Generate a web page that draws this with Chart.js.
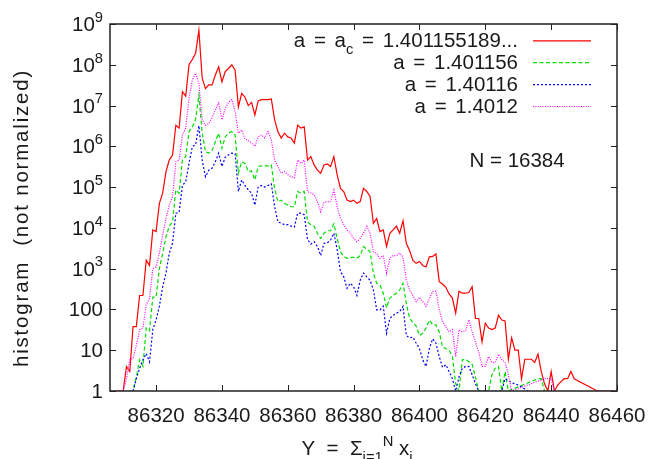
<!DOCTYPE html>
<html>
<head>
<meta charset="utf-8">
<script src="https://cdn.jsdelivr.net/npm/chart.js@4.4.1/dist/chart.umd.min.js"></script>
<style>
  html, body { margin: 0; padding: 0; background: #fff; }
  canvas { display: block; }
</style>
</head>
<body>
<canvas id="hist" width="652" height="459"></canvas>
<script>
// histogram bins start here, one bin per integer Y
const binStart = 86308;

const xTicks = [86320, 86340, 86360, 86380, 86400, 86420, 86440, 86460];
const yExponents = [0, 1, 2, 3, 4, 5, 6, 7, 8, 9];

const seriesLabels = [
  "a = a_{c} = 1.401155189...",
  "a = 1.401156",
  "a = 1.40116",
  "a = 1.4012"
];

// a = a_c
const redCounts = [
  1, 1, 1, 4, 3, 38, 38, 220, 220, 1600,                                   // 86308
  1200, 8900, 8100, 4.0e4, 7.1e4, 2.4e5, 4.6e5, 6.1e5, 3.3e6, 2.8e6,        // 86318
  2.2e7, 1.7e7, 1.0e8, 1.35e8, 1.9e8, 7.0e8, 4.7e7, 2.6e7, 3.2e7, 3.2e7,    // 86328
  5.6e7, 8.9e7, 3.8e7, 6.8e7, 8.1e7, 1.0e8, 7.4e7, 9.3e6, 2.0e7, 1.6e7,     // 86338
  1.0e7, 1.2e7, 5.9e6, 1.3e7, 1.4e7, 1.4e7, 1.4e7, 1.45e7, 4.5e6, 2.3e6,    // 86348
  1.6e6, 2.1e6, 1.7e6, 1.6e6, 1.2e6, 3.3e6, 2.8e6, 3.0e6, 4.6e5, 5.6e5,     // 86358
  3.5e5, 2.6e5, 2.2e5, 3.5e5, 3.7e5, 3.2e5, 5.6e5, 2.0e5, 9.3e4, 7.8e4,     // 86368
  4.8e4, 4.4e4, 4.8e4, 4.0e4, 4.4e4, 9.3e4, 7.8e4, 5.9e4, 1.3e4, 1.7e4,     // 86378
  8100, 8900, 3500, 7400, 8900, 1.1e4, 7400, 1.5e4, 4200, 2800,            // 86388
  1600, 1350, 1500, 1200, 1100, 1950, 2000, 2300, 480, 420,                // 86398
  350, 240, 190, 81, 280, 250, 250, 260, 360, 60,                          // 86408
  60, 16, 46, 35, 32, 35, 72, 55, 52, 6,                                   // 86418
  20, 10, 10, 2, 6, 6, 6, 5, 8, 3,                                         // 86428
  1.5, 1, 3, 1, 1.4, 1.7, 2, 2, 3, 2,                                      // 86438
  null, null, null, null, null, null, 1, null, null, null,                 // 86448
  null, 1                                                                  // 86458
];

// a = 1.401156
const greenCounts = [
  null, null, null, null, 1, 1, 2.2, 5.8, 4, 35,                           // 86308
  30, 200, 200, 1000, 2400, 6000, 1.1e4, 1.4e4, 8.5e4, 7.1e4,              // 86318
  4.6e5, 5.6e5, 2.3e6, 3.0e6, 4.5e6, 1.8e7, 2.1e6, 7.4e5, 6.8e5, 7.8e5,     // 86328
  1.3e6, 2.1e6, 8.9e5, 1.7e6, 2.1e6, 2.3e6, 1.9e6, 2.2e5, 4.2e5, 3.8e5,     // 86338
  2.4e5, 2.5e5, 1.5e5, 3.2e5, 3.3e5, 3.3e5, 3.3e5, 3.5e5, 9.3e4, 4.4e4,     // 86348
  4.8e4, 4.0e4, 3.6e4, 3.3e4, 3.3e4, 7.8e4, 7.1e4, 7.8e4, 1.4e4, 1.2e4,     // 86358
  1.1e4, 7400, 5500, 7400, 8500, 8500, 1.26e4, 5500, 2600, 2000,           // 86368
  1800, 1900, 1900, 1800, 2100, 3500, 3000, 2600, 780, 440,                // 86378
  400, 250, 110, 190, 220, 250, 300, 440, 140, 60,                         // 86388
  48, 39, 23, 26, 35, 55, 42, 42, 28, 12,                                  // 86398
  11, 10, 7, 1.5, 1, 5.8, 6, 5.2, 4.5, 2.2,                                // 86408
  1, null, null, 1, 2.5, 3.6, 4, 1, 3, 1,                                  // 86418
  null, null, null, null, null, null, null, null, 2, 2,                    // 86428
  1                                                                        // 86438
];

// a = 1.40116
const blueCounts = [
  null, null, null, null, null, 1, 2, 3.6, 5.8, 8.3,                       // 86308
  5.2, 32, 55, 120, 360, 780, 2400, 4200, 2.3e4, 2.4e4,                    // 86318
  1.1e5, 1.35e5, 3.8e5, 9.8e5, 1.1e6, 3.2e6, 4.6e5, 1.8e5, 2.6e5, 2.9e5,    // 86328
  4.2e5, 6.8e5, 3.2e5, 5.4e5, 6.2e5, 6.8e5, 6.6e5, 7.8e4, 1.5e5, 1.1e5,     // 86338
  8.5e4, 7.1e4, 3.6e4, 1.0e5, 1.1e5, 1.0e5, 1.1e5, 1.2e5, 3.3e4, 1.4e4,     // 86348
  1.3e4, 1.2e4, 1.2e4, 1.1e4, 1.05e4, 2.3e4, 2.3e4, 2.1e4, 5200, 4000,     // 86358
  4600, 3500, 2100, 4200, 4300, 5000, 7400, 2900, 850, 630,                // 86368
  330, 440, 360, 220, 520, 780, 630, 520, 300, 98,                         // 86378
  98, 120, 26, 60, 72, 81, 89, 120, 23, 20,                                // 86388
  21, 15, 11, 5.8, 4, 11, 19, 15, 7, 3.8,                                  // 86398
  4.4, 3, 2, 1, 2.2, 3.6, 4, 4, 2.5, 1.5,                                  // 86408
  1, null, null, null, null, null, null, 1, 2, 1.8,                        // 86418
  1.6, null, 1.4, null, null, 1                                            // 86428
];

// a = 1.4012
const magentaCounts = [
  null, null, 1, 2, 5.8, 6.3, 13, 32, 35, 130,                             // 86308
  185, 1000, 1100, 2400, 6700, 1.7e4, 3.6e4, 5.9e4, 4.2e5, 4.6e5,          // 86318
  1.9e6, 2.8e6, 1.5e7, 4.2e7, 6.2e7, 3.5e7, 4.4e6, 3.3e6, 3.6e6, 5.0e6,     // 86328
  7.8e6, 1.2e7, 4.5e6, 8.5e6, 1.2e7, 1.4e7, 7.1e6, 2.1e6, 2.5e6, 1.5e6,     // 86338
  1.4e6, 1.2e6, 1.0e6, 1.7e6, 1.9e6, 1.6e6, 2.3e6, 1.45e6, 4.6e5, 3.2e5,    // 86348
  2.2e5, 2.4e5, 2.0e5, 1.8e5, 1.7e5, 4.6e5, 3.8e5, 4.6e5, 7.8e4, 7.2e4,     // 86358
  6.5e4, 4.4e4, 2.5e4, 4.2e4, 4.4e4, 4.4e4, 8.5e4, 3.3e4, 1.7e4, 1.2e4,     // 86368
  8900, 7400, 5500, 4600, 5500, 7400, 1.1e4, 7400, 2600, 2400,             // 86378
  1800, 2100, 780, 1800, 2100, 2100, 2400, 1950, 520, 300,                 // 86388
  220, 155, 200, 155, 120, 185, 275, 280, 98, 50,                          // 86398
  38, 28, 32, 7, 32, 28, 30, 56, 28, 16,                                   // 86408
  9, 4, 4, 7, 5, 5, 8, 6, 5, 2.5,                                          // 86418
  1, null, null, null, null, null, null, null, null, null,                 // 86428
  2, null, 2, 1                                                            // 86438
];

const FONT = '"Liberation Sans", Arial, Helvetica, sans-serif';
const TEXT = "#1a1a1a";
const FS = 20.5;

function toPoints(counts) {
  const pts = [];
  counts.forEach((c, i) => {
    if (c !== null) pts.push({ x: binStart + i, y: c });
  });
  return pts;
}

// tiny rich text: _{sub} and ^{sup}
function parseRich(s) {
  const out = [];
  let buf = "";
  let i = 0;
  while (i < s.length) {
    const ch = s[i];
    if ((ch === "_" || ch === "^") && s[i + 1] === "{") {
      if (buf) { out.push({ t: buf, m: 0 }); buf = ""; }
      const end = s.indexOf("}", i);
      out.push({ t: s.slice(i + 2, end), m: ch === "_" ? 1 : -1 });
      i = end + 1;
    } else {
      buf += ch;
      i++;
    }
  }
  if (buf) out.push({ t: buf, m: 0 });
  return out;
}

function drawRich(ctx, s, x, y, size, align) {
  const parts = parseRich(s);
  const small = size * 0.72;
  let w = 0;
  parts.forEach(p => {
    ctx.font = (p.m ? small : size) + "px " + FONT;
    p.w = ctx.measureText(p.t).width;
    w += p.w;
  });
  let cx = align === "right" ? x - w : (align === "center" ? x - w / 2 : x);
  ctx.textAlign = "left";
  ctx.textBaseline = "alphabetic";
  parts.forEach(p => {
    ctx.font = (p.m ? small : size) + "px " + FONT;
    const dy = p.m === 1 ? size * 0.32 : (p.m === -1 ? -size * 0.45 : 0);
    ctx.fillText(p.t, cx, y + dy);
    cx += p.w;
  });
}

const styles = [
  { color: "#ff0000", dash: [] },
  { color: "#00dd00", dash: [4, 2.5] },
  { color: "#0000ff", dash: [2, 2] },
  { color: "#ff00ff", dash: [1, 1.4] }
];

const decorations = {
  id: "decorations",
  afterDraw(chart) {
    const ctx = chart.ctx;
    const a = chart.chartArea;
    const xs = chart.scales.x;
    const ys = chart.scales.y;
    ctx.save();

    // frame
    ctx.strokeStyle = "#222";
    ctx.lineWidth = 1.5;
    ctx.strokeRect(a.left, a.top, a.right - a.left, a.bottom - a.top);

    // inward tick marks on all four sides
    ctx.lineWidth = 1;
    ctx.beginPath();
    xTicks.forEach(v => {
      const px = Math.round(xs.getPixelForValue(v)) + 0.5;
      ctx.moveTo(px, a.bottom); ctx.lineTo(px, a.bottom - 6);
      ctx.moveTo(px, a.top); ctx.lineTo(px, a.top + 6);
    });
    yExponents.forEach(e => {
      const py = Math.round(ys.getPixelForValue(Math.pow(10, e))) + 0.5;
      ctx.moveTo(a.left, py); ctx.lineTo(a.left + 6, py);
      ctx.moveTo(a.right, py); ctx.lineTo(a.right - 6, py);
    });
    ctx.stroke();

    ctx.fillStyle = TEXT;

    // x tick labels
    ctx.font = FS + "px " + FONT;
    ctx.textAlign = "center";
    ctx.textBaseline = "alphabetic";
    xTicks.forEach(v => {
      ctx.fillText(String(v), xs.getPixelForValue(v), 422);
    });

    // y tick labels
    yExponents.forEach(e => {
      const py = ys.getPixelForValue(Math.pow(10, e));
      const lbl = e === 0 ? "1" : e === 1 ? "10" : e === 2 ? "100" : "10^{" + e + "}";
      drawRich(ctx, lbl, 103, py + 7, FS, "right");
    });

    // axis titles
    drawRich(ctx, "Y  =  \u03A3_{i=1}^{N} x_{i}", 301.5, 455, FS, "left");
    ctx.save();
    ctx.translate(28, 367);
    ctx.rotate(-Math.PI / 2);
    ctx.font = FS + "px " + FONT;
    ctx.letterSpacing = "1.8px";
    ctx.textAlign = "left";
    ctx.textBaseline = "alphabetic";
    ctx.fillText("histogram  (not normalized)", 0, 0);
    ctx.restore();

    // key
    ctx.wordSpacing = "3px";
    seriesLabels.forEach((lbl, i) => {
      const base = 47.3 + i * 21.9;
      ctx.fillStyle = TEXT;
      drawRich(ctx, lbl, 518, base, FS, "right");
      ctx.strokeStyle = styles[i].color;
      ctx.lineWidth = 1.2;
      ctx.setLineDash(styles[i].dash);
      ctx.beginPath();
      ctx.moveTo(533, base - 6.5);
      ctx.lineTo(591, base - 6.5);
      ctx.stroke();
      ctx.setLineDash([]);
    });
    ctx.wordSpacing = "0px";

    ctx.fillStyle = TEXT;
    ctx.font = FS + "px " + FONT;
    ctx.textAlign = "left";
    ctx.fillText("N = 16384", 469.5, 166.5);

    ctx.restore();
  }
};

const allCounts = [redCounts, greenCounts, blueCounts, magentaCounts];

new Chart(document.getElementById("hist"), {
  type: "line",
  data: {
    datasets: allCounts.map((counts, i) => ({
      label: seriesLabels[i],
      data: toPoints(counts),
      borderColor: styles[i].color,
      borderDash: styles[i].dash,
      borderWidth: 1.2,
      pointRadius: 0,
      tension: 0,
      fill: false,
      order: 3 - i
    }))
  },
  options: {
    responsive: false,
    devicePixelRatio: 1,
    animation: false,
    events: [],
    layout: { padding: { left: 0, right: 35, top: 24, bottom: 0 } },
    plugins: { legend: { display: false }, tooltip: { enabled: false } },
    scales: {
      x: {
        type: "linear",
        min: 86306,
        max: 86460,
        ticks: { display: false },
        grid: { display: false, drawTicks: false },
        border: { display: false },
        afterFit: s => { s.height = 68; }
      },
      y: {
        type: "logarithmic",
        min: 1,
        max: 1e9,
        ticks: { display: false },
        grid: { display: false, drawTicks: false },
        border: { display: false },
        afterFit: s => { s.width = 110; }
      }
    }
  },
  plugins: [decorations]
});
</script>
</body>
</html>
